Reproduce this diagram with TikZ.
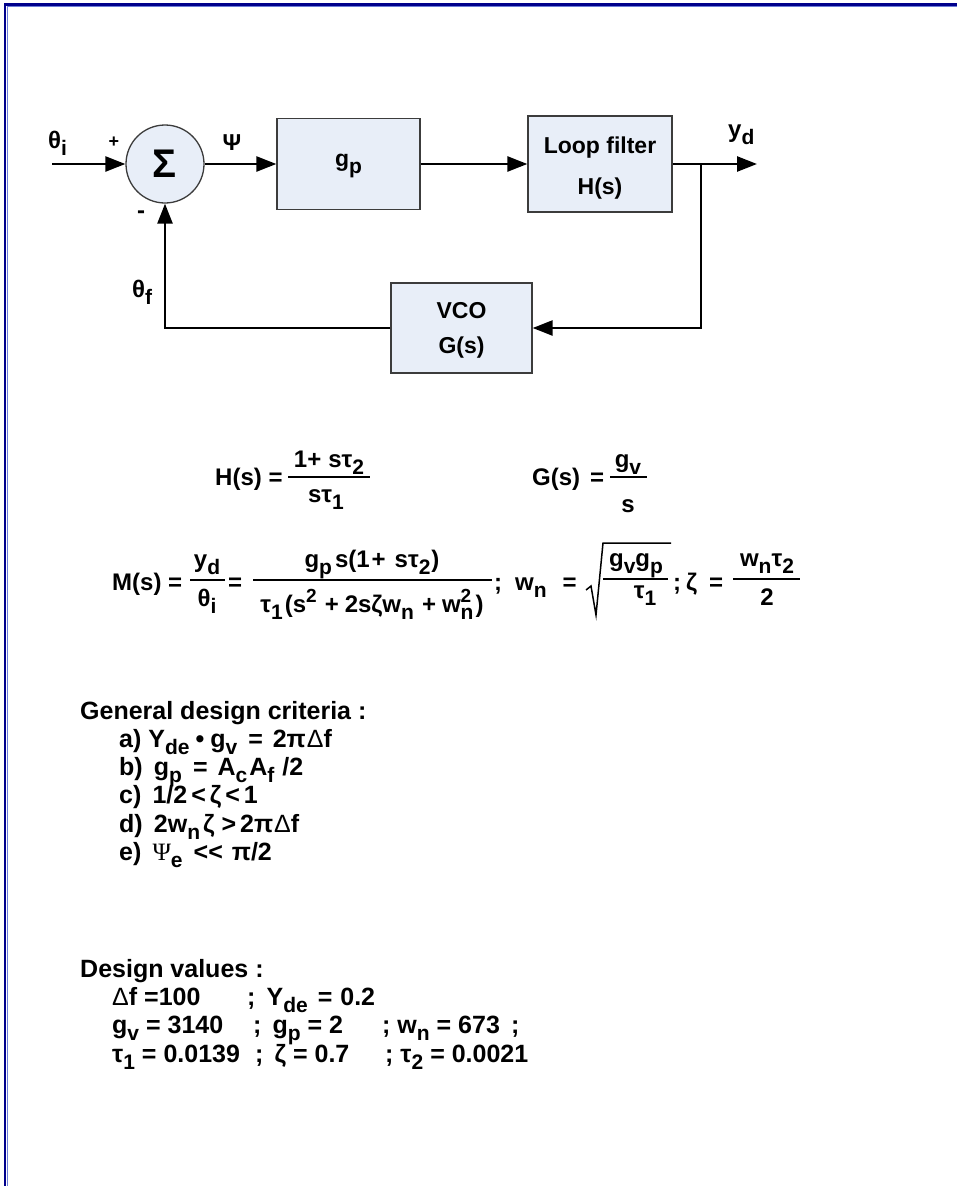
\documentclass[tikz,border=0pt]{standalone}
\usepackage{fontspec}
\setmainfont{Liberation Sans}
\newfontfamily\serifgr{Liberation Serif}
\usetikzlibrary{arrows.meta}
\definecolor{boxfill}{RGB}{232,238,248}
\definecolor{boxline}{RGB}{60,60,60}
\definecolor{frameblue}{RGB}{0,0,140}
\definecolor{framelight}{RGB}{110,125,215}
\newcommand\sbs[1]{\raisebox{-7.5pt}{\fontsize{21}{21}\selectfont #1}}
\newcommand\sps[1]{\raisebox{10pt}{\fontsize{19}{19}\selectfont #1}}
\newcommand\sbsp[2]{\rlap{\sps{#2}}\sbs{#1}}
\newcommand\thin[1]{{\mdseries #1}}
\newcommand\hs[1]{\hspace{#1pt}}
\tikzset{
  conn/.style={line width=2.5pt, -{Triangle[length=20pt,width=15pt]}},
  blk/.style={draw=boxline, fill=boxfill, line width=1.3pt, inner sep=0pt},
  boxtxt/.style={inner sep=0pt, align=center, font=\fontsize{23}{41}\selectfont\bfseries},
  sumnode/.style={circle, draw=boxline, fill=boxfill, line width=1.3pt, minimum size=78pt,
    inner sep=0pt, font=\fontsize{40}{40}\selectfont\bfseries},
  lbl/.style={inner sep=0pt, font=\fontsize{24}{28}\selectfont\bfseries},
  eq/.style={inner sep=0pt, font=\fontsize{24}{28}\selectfont\bfseries},
  txt/.style={inner sep=0pt, anchor=base west, font=\fontsize{25}{30}\selectfont\bfseries},
  fbar/.style={line width=1.3pt},
}
\begin{document}
\begin{tikzpicture}[x=1pt,y=-1pt]
\useasboundingbox (0,0) rectangle (956,1186);
% frame
\draw[frameblue, line width=2.5pt] (5,1200) -- (5,4.5) -- (970,4.5);
\draw[framelight, line width=1pt] (7,1200) -- (7,6.5) -- (970,6.5);

% block diagram
\coordinate (in) at (52,164);
\node[sumnode] (sum) at (165,164) {Σ};
\node[blk, minimum width=143pt, minimum height=91pt] (gp) at (348.5,164) {};
\node[boxtxt] (gptxt) at (348.5,166) {g\sbs{p}};
\node[blk, minimum width=144pt, minimum height=96pt] (lf) at (600,164) {};
\node[boxtxt] (lftxt) at (600,168) {Loop filter\\H(s)};
\node[blk, minimum width=141pt, minimum height=90pt] (vco) at (461.5,328) {};
\node[boxtxt] (vcotxt) at (461.5,330) {VCO\\[-6pt]G(s)};
\coordinate (br) at (701,164);
\coordinate (out) at (757,164);

\draw[conn] (in) -- (sum);
\draw[conn] (sum) -- (gp);
\draw[conn] (gp) -- (lf);
\draw[conn] (lf) -- (out);
\draw[conn] (br) |- (vco);
\draw[conn] (vco) -| (sum);

\node[lbl, anchor=base west] (thi) at (48,148) {θ\sbs{i}};
\node[inner sep=0pt, font=\fontsize{18}{18}\selectfont\bfseries] (plus) at (114,142) {+};
\node[inner sep=0pt, font=\fontsize{24}{24}\selectfont\bfseries] (minus) at (141,215) {-};
\node[inner sep=0pt, font=\fontsize{23}{23}\selectfont\bfseries] (psi) at (232,143) {Ψ};
\node[lbl, anchor=base west] (yd) at (728,137) {y\sbs{d}};
\node[lbl, anchor=base west] (thf) at (132,297) {θ\sbs{f}};

% H(s) and G(s)
\node[eq, anchor=base west] (hl) at (215,485) {H(s) =};
\draw[fbar] (288,477) -- (370,477);
\node[eq, anchor=base] (hn) at (329,467) {1+\hs{7}sτ\sbs{2}};
\node[eq, anchor=base] (hd) at (326,502) {sτ\sbs{1}};

\node[eq, anchor=base west] (gl) at (532,485) {G(s)\hs{10}=};
\draw[fbar] (610,477) -- (647,477);
\node[eq, anchor=base] (gn) at (628,467) {g\sbs{v}};
\node[eq, anchor=base] (gd) at (628,512) {s};

% M(s)
\node[eq, anchor=base west] (ml) at (112,590) {M(s) =};
\draw[fbar] (190,580) -- (225,580);
\node[eq, anchor=base] (mn1) at (207,567) {y\sbs{d}};
\node[eq, anchor=base] (md1) at (207,606) {θ\sbs{i}};
\node[eq, anchor=base west] (meq) at (228,590) {=};
\draw[fbar] (253,580) -- (492,580);
\node[eq, anchor=base] (mn2) at (372,567) {g\sbs{p}\hs{3}s(1\hs{2}+\hs{9}sτ\sbs{2}\hs{1})};
\node[eq, anchor=base] (md2) at (372,612) {τ\sbs{1}\hs{2}(s\sps{2}\hs{8}+\hs{6}2sζw\sbs{n}\hs{8}+\hs{6}w\sbsp{n}{2}\hs{2})};
\node[eq, anchor=base west] (semi1) at (494,590) {;};
\node[eq, anchor=base west] (wl) at (515,590) {w\sbs{n}\hs{16}=};
\draw[line width=1.5pt, line join=miter] (586,590) -- (591,586) -- (596,615) -- (603,543) -- (671,543);
\draw[fbar] (603,579) -- (668,579);
\node[eq, anchor=base] (sqn) at (636,566) {g\sbs{v}g\sbs{p}};
\node[eq, anchor=base] (sqd) at (645,598) {τ\sbs{1}};
\node[eq, anchor=base west] (semi2) at (673,590) {;};
\node[eq, anchor=base west] (zl) at (686,590) {ζ\hs{12}=};
\draw[fbar] (733,579) -- (800,579);
\node[eq, anchor=base] (zn) at (767,566) {w\sbs{n}τ\sbs{2}};
\node[eq, anchor=base] (zd) at (767,605) {2};

% criteria
\node[txt] (gdc) at (80,719) {General design criteria :};
\node[txt] (ca) at (119,747) {a) Y\sbs{de}\hs{6}•\hs{6}g\sbs{v}\hs{11}=\hs{10}2π\hs{1}\thin{Δ}f};
\node[txt] (cb) at (119,775) {b) \,g\sbs{p}\hs{11}=\hs{10}A\sbs{c}\hs{2}A\sbs{f}\hs{8}/2};
\node[txt] (cc) at (119,803) {c) \,1/2\hs{4}<\hs{4}ζ\hs{4}<\hs{4}1};
\node[txt] (cd) at (119,832) {d) \,2w\sbs{n}\hs{3}ζ\hs{7}>\hs{4}2π\hs{1}\thin{Δ}f};
\node[txt] (ce) at (119,860) {e) \,{\serifgr\mdseries Ψ}\sbs{e}\hs{11}<{}<\hs{9}π/2};

% design values
\node[txt] (dv) at (80,977) {Design values :};
\node[txt] (v1a) at (112,1005) {\thin{Δ}f =100};
\node[txt] (v1b) at (247,1005) {;\, Y\sbs{de}\hs{10}=\hs{8}0.2};
\node[txt] (v2a) at (112,1033) {g\sbs{v} = 3140};
\node[txt] (v2b) at (253,1033) {;\, g\sbs{p} = 2};
\node[txt] (v2c) at (382,1033) {; w\sbs{n} = 673\, ;};
\node[txt] (v3a) at (112,1062) {τ\sbs{1} = 0.0139};
\node[txt] (v3b) at (255,1062) {;\, ζ = 0.7};
\node[txt] (v3c) at (385,1062) {; τ\sbs{2} = 0.0021};
\end{tikzpicture}
\end{document}
